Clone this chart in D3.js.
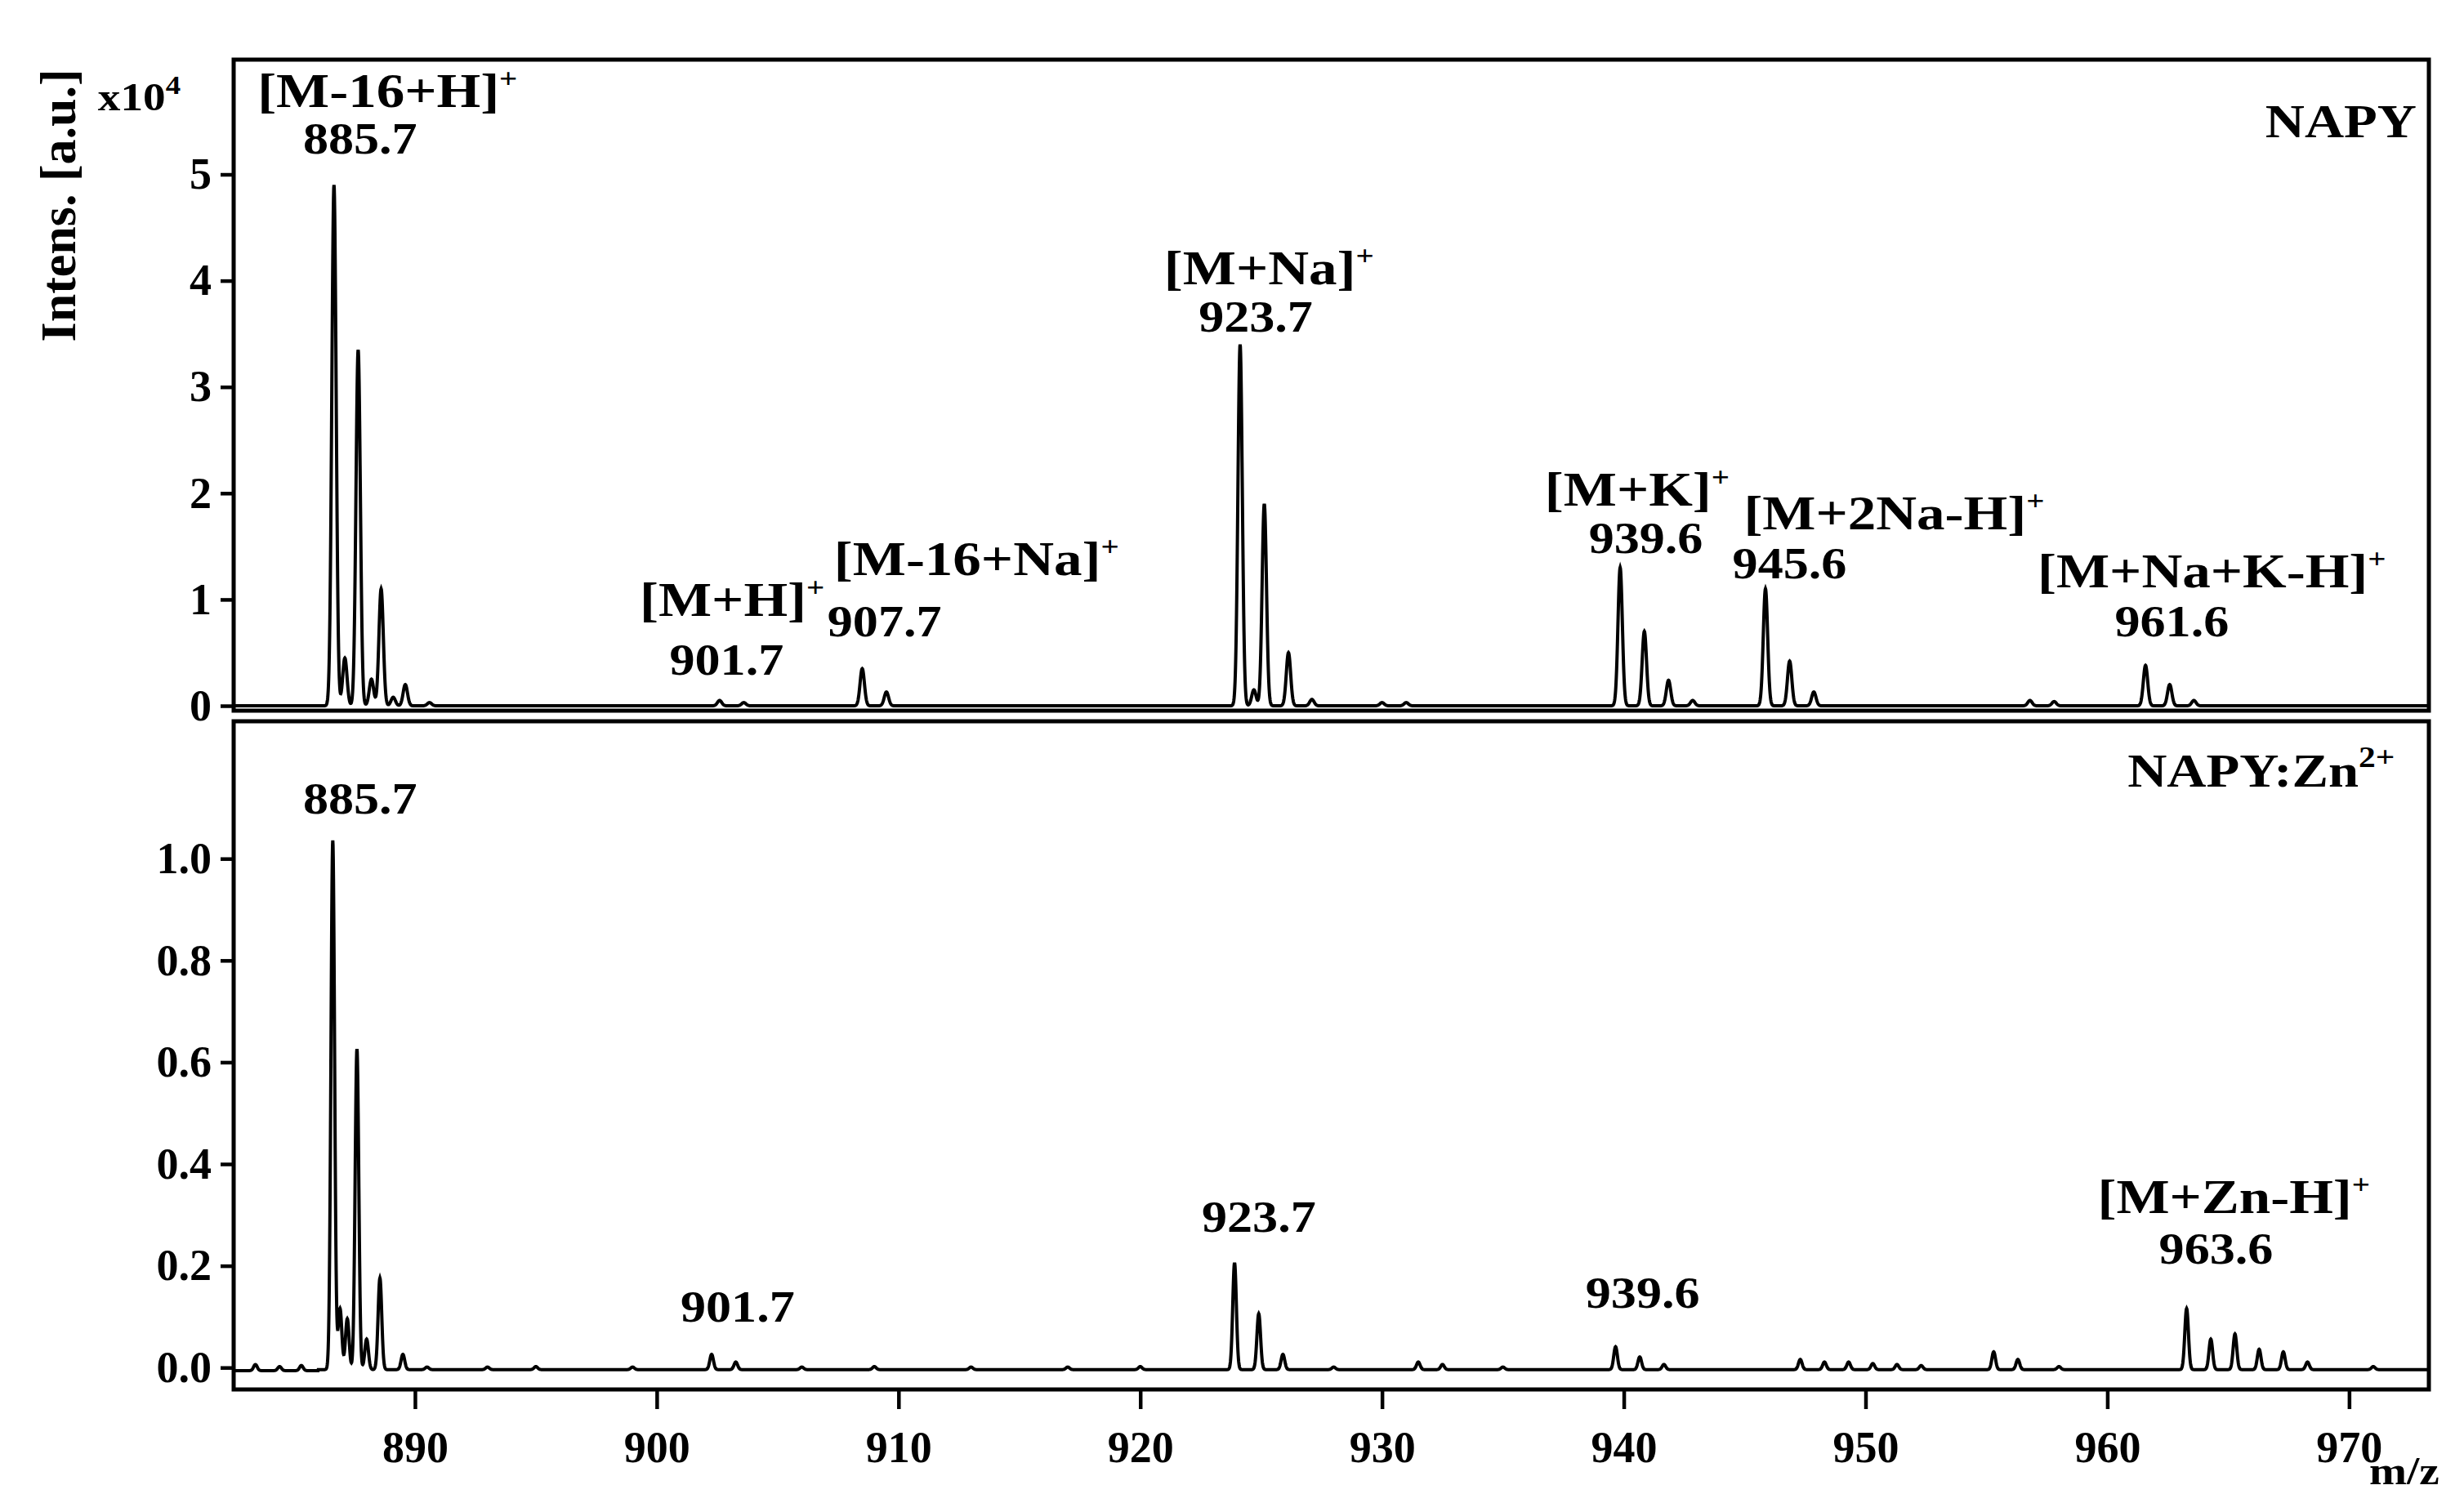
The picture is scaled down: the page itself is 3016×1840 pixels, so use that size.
<!DOCTYPE html>
<html><head><meta charset="utf-8">
<script src="https://cdn.jsdelivr.net/npm/d3@7"></script>
<style>body{margin:0;background:#fff}text{font-family:"Liberation Serif","Times New Roman",serif;font-weight:bold}</style>
</head><body><svg id="c"></svg>
<script>
// upper spectrum (NAPY), intensity x10^4 : peak positions as drawn on the m/z axis, heights
const upperMz = [886.65,887.1,887.65,888.2,888.6,889.1,889.6,890.6,902.6,903.6,908.5,909.5,924.13,924.7,925.13,926.13,927.1,930,931,939.85,940.85,941.85,942.85,945.86,946.86,947.86,956.8,957.8,961.58,962.58,963.58]
const upperInt = [4.9,0.45,3.35,0.25,1.1,0.08,0.2,0.03,0.05,0.03,0.35,0.13,3.4,0.15,1.9,0.5,0.06,0.03,0.03,1.3,0.7,0.24,0.05,1.1,0.42,0.13,0.05,0.04,0.38,0.2,0.05]
// lower spectrum (NAPY:Zn2+), intensity x10^4
const lowerMz = [883.4,884.4,885.3,886.6,886.9,887.2,887.6,888.0,888.55,889.5,890.5,893,895,899,902.27,903.27,906,909,913,917,920,923.9,924.9,925.9,928,931.5,932.5,935,939.66,940.66,941.66,947.3,948.3,949.3,950.3,951.3,952.3,955.3,956.3,958,963.28,964.28,965.28,966.28,967.28,968.28,971]
const lowerInt = [0.012,0.008,0.01,1.04,0.12,0.1,0.63,0.06,0.18,0.03,0.005,0.005,0.006,0.005,0.03,0.015,0.005,0.006,0.005,0.005,0.006,0.21,0.11,0.03,0.005,0.015,0.01,0.005,0.045,0.025,0.01,0.02,0.015,0.015,0.012,0.01,0.008,0.035,0.02,0.006,0.12,0.06,0.07,0.04,0.035,0.015,0.006]
const xTicks = [890,900,910,920,930,940,950,960,970]
const upperTicks = [0,1,2,3,4,5]
const lowerTicks = [0,0.2,0.4,0.6,0.8,1.0]
const upperLabels = [
  {ion:'[M-16+H]', mz:'885.7', ix:163, iy:68, nx:228, ny:97},
  {ion:'[M+H]', mz:'901.7', ix:405, iy:390, nx:460, ny:427},
  {ion:'[M-16+Na]', mz:'907.7', ix:528, iy:364, nx:560, ny:403},
  {ion:'[M+Na]', mz:'923.7', ix:737, iy:180, nx:795, ny:210},
  {ion:'[M+K]', mz:'939.6', ix:978, iy:320, nx:1042, ny:350},
  {ion:'[M+2Na-H]', mz:'945.6', ix:1104, iy:335, nx:1133, ny:366},
  {ion:'[M+Na+K-H]', mz:'961.6', ix:1290, iy:372, nx:1375, ny:403}
]
const lowerLabels = [
  {mz:'885.7', nx:228, ny:515},
  {mz:'901.7', nx:467, ny:837},
  {mz:'923.7', nx:797, ny:780},
  {mz:'939.6', nx:1040, ny:828},
  {ion:'[M+Zn-H]', mz:'963.6', ix:1328, iy:768, nx:1403, ny:800}
]

const W = 3016, H = 1840, k = W / 1560, SX = 1.15
const svg = d3.select('#c').attr('width', W).attr('height', H)
const left = 286, right = 2973
const x = d3.scaleLinear().domain([882.5, 973.3]).range([left, right])
const yU = d3.scaleLinear().domain([-0.046, 6.08]).range([870, 73])
const yL = d3.scaleLinear().domain([-0.043, 1.27]).range([1701, 883])

const grid = d3.range(882.5, 973.3, 0.01)
const spectrum = (mz, it, s, base) => grid.map(g => {
  let v = base(g)
  mz.forEach((m, i) => { v += it[i] * Math.exp(-((g - m) ** 2) / (2 * s * s)) })
  return [g, v]
})
const up = spectrum(upperMz, upperInt, 0.09, () => 0)
const lo = spectrum(lowerMz, lowerInt, 0.075, g => g < 886 ? -0.006 : -0.004)

svg.append('path').datum(up).attr('fill', 'none').attr('stroke', '#000').attr('stroke-width', 4)
  .attr('d', d3.line().x(d => x(d[0])).y(d => yU(d[1])))
svg.append('path').datum(lo).attr('fill', 'none').attr('stroke', '#000').attr('stroke-width', 4)
  .attr('d', d3.line().x(d => x(d[0])).y(d => yL(d[1])))

// frames
svg.append('rect').attr('x', left).attr('y', 73).attr('width', right - left).attr('height', 870 - 73)
  .attr('fill', 'none').attr('stroke', '#000').attr('stroke-width', 5)
svg.append('rect').attr('x', left).attr('y', 883).attr('width', right - left).attr('height', 1701 - 883)
  .attr('fill', 'none').attr('stroke', '#000').attr('stroke-width', 5)

// y axes
const gU = svg.append('g').attr('transform', `translate(${left},0)`)
  .call(d3.axisLeft(yU).tickValues(d3.range(0, 6.01, 0.2)).tickSize(12).tickFormat(''))
gU.call(d3.axisLeft(yU).tickValues(upperTicks).tickSize(16).tickFormat(d3.format('d')))
const gL = svg.append('g').attr('transform', `translate(${left},0)`)
  .call(d3.axisLeft(yL).tickValues(d3.range(0, 1.21, 0.1)).tickSize(12).tickFormat(''))
gL.call(d3.axisLeft(yL).tickValues(lowerTicks).tickSize(16).tickFormat(d3.format('.1f')))
const gX = svg.append('g').attr('transform', 'translate(0,1701)')
  .call(d3.axisBottom(x).tickValues(d3.range(884, 973, 2)).tickSize(14).tickFormat(''))
gX.call(d3.axisBottom(x).tickValues(xTicks).tickSize(24).tickFormat(d3.format('d')))
svg.selectAll('.domain').remove()
svg.selectAll('.tick line').attr('stroke', '#000').attr('stroke-width', 4.5)
svg.selectAll('.tick text').attr('font-size', '54px').attr('fill', '#000')
  .style('font-family', '"Liberation Serif",serif').style('font-weight', 'bold')
gX.selectAll('.tick text').attr('dy', '1.15em')
gU.selectAll('.tick text').attr('dx', '-0.15em')
gL.selectAll('.tick text').attr('dx', '-0.15em')

// stretched text helper
const txt = (px, py, size, anchor) => svg.append('text')
  .attr('transform', `translate(${px},${py}) scale(${SX},1)`)
  .attr('text-anchor', anchor || 'start').attr('font-size', size + 'px')

svg.append('text').attr('transform', `translate(92,${130 * k}) rotate(-90)`).attr('text-anchor', 'middle')
  .attr('font-size', '62px').text('Intens. [a.u.]')
const xt = txt(62 * k, 70 * k, 48)
xt.append('tspan').text('x10')
xt.append('tspan').attr('font-size', '32px').attr('dy', '-20').text('4')
txt(1500 * k, 940 * k, 48).text('m/z')

const ionText = (sel, ion, charge) => {
  sel.append('tspan').text(ion)
  sel.append('tspan').attr('font-size', '34px').attr('dy', '-24').text(charge)
}
const allLabels = upperLabels.concat(lowerLabels)
allLabels.forEach(l => {
  if (l.ion) ionText(txt(l.ix * k, l.iy * k, 60), l.ion, '+')
  txt(l.nx * k, l.ny * k, 54, 'middle').text(l.mz)
})
txt(1530 * k, 87 * k, 58, 'end').text('NAPY')
const zn = txt(1347 * k, 498 * k, 58)
zn.append('tspan').text('NAPY:Zn')
zn.append('tspan').attr('font-size', '36px').attr('dy', '-24').text('2+')
</script></body></html>
